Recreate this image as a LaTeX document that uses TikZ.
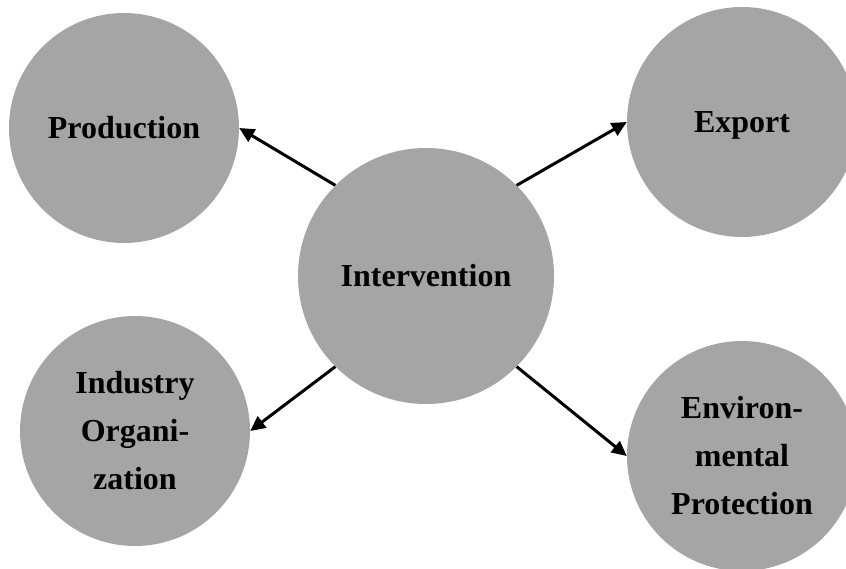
\documentclass[tikz,border=0pt]{standalone}
\usepackage{fontspec}
\setmainfont{Liberation Serif}
\usetikzlibrary{arrows.meta}
\definecolor{circgray}{HTML}{A5A5A5}
\begin{document}
\begin{tikzpicture}[x=1pt,y=-1pt,
  bubble/.style={circle,fill=circgray,draw=none,inner sep=0pt,align=center,
    font=\fontsize{32}{48}\selectfont\bfseries},
  link/.style={line width=3pt,-{Triangle[length=15pt,width=14pt]}}]
\useasboundingbox (0,0) rectangle (846,569);
\node[bubble,minimum size=230pt] (prod) at (124,128) {Production};
\node[bubble,minimum size=230pt] (exp) at (742,122) {\raisebox{0pt}[\height][0pt]{Export}};
\node[bubble,minimum size=256pt] (int) at (426,276) {Intervention};
\node[bubble,minimum size=230pt] (ind) at (135,431) {Industry\\Organi-\\zation};
\node[bubble,minimum size=230pt] (env) at (742,456) {Environ-\\mental\\Protection};
\draw[link] (int.135) -- (prod.east);
\draw[link] (int.45) -- (exp.west);
\draw[link] (int.225) -- (ind.east);
\draw[link] (int.315) -- (env.west);
\end{tikzpicture}
\end{document}
